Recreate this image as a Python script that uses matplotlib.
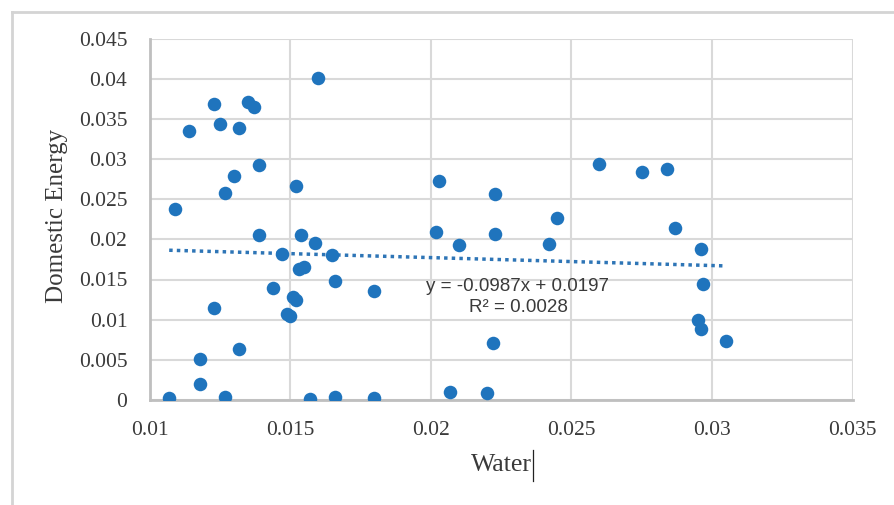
import matplotlib
matplotlib.use("Agg")
import matplotlib.pyplot as plt
import numpy as np
from matplotlib.lines import Line2D

# scatter data: Water (x) vs Domestic Energy (y)
water = [0.0107, 0.0109, 0.0114, 0.0118, 0.0118, 0.0123, 0.0123, 0.0125, 0.0127,
         0.0127, 0.0130, 0.0132, 0.0132, 0.0135, 0.0137, 0.0139, 0.0139, 0.0144,
         0.0147, 0.0149, 0.0150, 0.0151, 0.0152, 0.0152, 0.0153, 0.0155, 0.0154,
         0.0157, 0.0159, 0.0160, 0.0165, 0.0166, 0.0166, 0.0180, 0.0180, 0.0202,
         0.0203, 0.0207, 0.0210, 0.0220, 0.0222, 0.0223, 0.0223, 0.0242, 0.0245,
         0.0260, 0.0275, 0.0284, 0.0287, 0.0296, 0.0297, 0.0295, 0.0296, 0.0305]
energy = [0.0002, 0.0238, 0.0335, 0.0051, 0.0020, 0.0369, 0.0115, 0.0344, 0.0258,
          0.0004, 0.0279, 0.0063, 0.0339, 0.0371, 0.0365, 0.0292, 0.0206, 0.0139,
          0.0182, 0.0107, 0.0104, 0.0128, 0.0124, 0.0266, 0.0163, 0.0166, 0.0205,
          0.0001, 0.0195, 0.0401, 0.0180, 0.0148, 0.0004, 0.0136, 0.0003, 0.0209,
          0.0272, 0.0010, 0.0193, 0.0009, 0.0071, 0.0257, 0.0207, 0.0194, 0.0226,
          0.0294, 0.0284, 0.0287, 0.0214, 0.0188, 0.0145, 0.0100, 0.0088, 0.0074]

# linear trendline shown on the chart
slope = -0.0987
intercept = 0.0197

xticks = [0.01, 0.015, 0.02, 0.025, 0.03, 0.035]
yticks = [0, 0.005, 0.01, 0.015, 0.02, 0.025, 0.03, 0.035, 0.04, 0.045]
xtick_labels = ["0.01", "0.015", "0.02", "0.025", "0.03", "0.035"]
ytick_labels = ["0", "0.005", "0.01", "0.015", "0.02", "0.025", "0.03", "0.035", "0.04", "0.045"]

fig = plt.figure(figsize=(8.94, 5.05), dpi=100)
ax = fig.add_axes([149.5 / 894, 105 / 505, 703 / 894, 361.5 / 505])

grid_c = "#d9d9d9"
text_c = "#3a3a3a"
dot_c = "#1f74bd"

ax.set_xlim(0.01, 0.035)
ax.set_ylim(0, 0.045)
ax.set_xticks(xticks)
ax.set_xticklabels(xtick_labels)
ax.set_yticks(yticks)
ax.set_yticklabels(ytick_labels)
ax.grid(True, color=grid_c, linewidth=1.5)
ax.set_axisbelow(True)
for side in ["top", "right"]:
    ax.spines[side].set_visible(False)
for side in ["left", "bottom"]:
    ax.spines[side].set_color("#bfbfbf")
    ax.spines[side].set_linewidth(2)
ax.tick_params(length=0, labelsize=15.5, labelcolor=text_c)
ax.tick_params(axis="y", pad=16)
ax.tick_params(axis="x", pad=15)
for lab in ax.get_xticklabels() + ax.get_yticklabels():
    lab.set_fontfamily("Liberation Serif")

ax.scatter(water, energy, s=95, color=dot_c, zorder=3, linewidths=0)

xt = np.array([min(water), max(water)])
ax.plot(xt, slope * xt + intercept, linestyle=(0, (1, 1.2)), color="#2e75b6",
        linewidth=2.5, zorder=2)

ax.text(518 / 894, 1 - 297 / 505, "y = -0.0987x + 0.0197\nR² = 0.0028",
        transform=fig.transFigure, ha="center", va="center", fontsize=13.5,
        family="Liberation Sans", color=text_c, linespacing=1.35)

fig.text(57 / 894, 1 - 216 / 505, "Domestic Energy", rotation=90, ha="center",
         va="center", fontsize=18, family="Liberation Serif", color=text_c)
fig.text(501 / 894, 1 - 465 / 505, "Water", ha="center", va="center",
         fontsize=18.5, family="Liberation Serif", color=text_c)
# text cursor after "Water"
fig.add_artist(Line2D([533 / 894, 533 / 894], [1 - 450 / 505, 1 - 481 / 505],
                      transform=fig.transFigure, color="#222222", linewidth=0.9))

# light border of the page frame
fig.add_artist(Line2D([12 / 894, 12 / 894], [0, 1 - 12 / 505],
                      transform=fig.transFigure, color="#d4d4d4", linewidth=2))
fig.add_artist(Line2D([12 / 894, 1], [1 - 12 / 505, 1 - 12 / 505],
                      transform=fig.transFigure, color="#d4d4d4", linewidth=2))

fig.savefig("out.png", dpi=100)
